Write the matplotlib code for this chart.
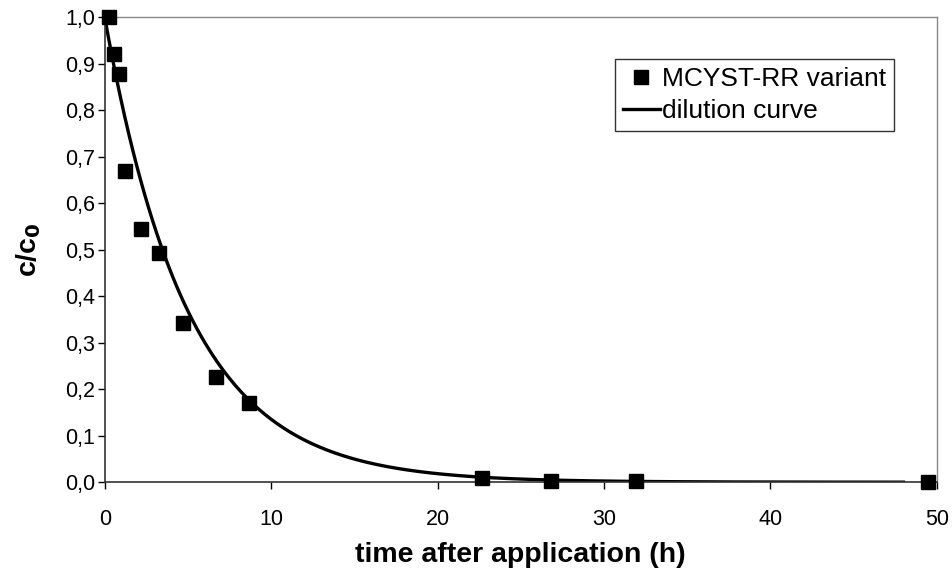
import numpy as np
import matplotlib.pyplot as plt
from matplotlib.ticker import FuncFormatter

plt.rcParams['font.family'] = ['Liberation Sans', 'DejaVu Sans']

# measured concentrations (MCYST-RR variant)
t_obs = [0.25, 0.55, 0.85, 1.2, 2.2, 3.25, 4.7, 6.7, 8.65, 22.7, 26.8, 31.9, 49.5]
c_obs = [1.0, 0.92, 0.877, 0.67, 0.545, 0.493, 0.343, 0.226, 0.17, 0.01, 0.003, 0.002, 0.0]

# dilution curve: c/c0 = exp(-k t), k
k_dil = 0.2
t_end = 48.0

x_ticks = [0, 10, 20, 30, 40, 50]
y_ticks = [0.0, 0.1, 0.2, 0.3, 0.4, 0.5, 0.6, 0.7, 0.8, 0.9, 1.0]

fig = plt.figure(figsize=(9.52, 5.72), dpi=100)
ax = fig.add_axes([0.110, 0.157, 0.874, 0.813])

t_fit = np.linspace(0, t_end, 400)
ax.plot(t_obs, c_obs, linestyle='none', marker='s', markersize=9.5, color='black',
        label='MCYST-RR variant', clip_on=False, zorder=3)
ax.plot(t_fit, np.exp(-k_dil * t_fit), color='black', linewidth=2.4,
        label='dilution curve', zorder=2)

ax.set_xlim(0, 50)
ax.set_ylim(0, 1.0)
ax.set_xticks(x_ticks)
ax.set_yticks(y_ticks)
ax.yaxis.set_major_formatter(FuncFormatter(lambda v, p: ('%.1f' % v).replace('.', ',')))
ax.tick_params(direction='out', length=5, width=1, labelsize=15.5, colors='black')
ax.tick_params(axis='x', pad=14)
ax.tick_params(axis='y', pad=2)

for side in ['left', 'bottom']:
    ax.spines[side].set_color('#333333')
    ax.spines[side].set_linewidth(1.2)
for side in ['top', 'right']:
    ax.spines[side].set_color('#888888')
    ax.spines[side].set_linewidth(1.0)

ax.set_xlabel('time after application (h)', fontsize=20.5, fontweight='bold', labelpad=9)
ax.set_ylabel(r'c/c$_\mathbf{0}$', fontsize=20.5, fontweight='bold', labelpad=16)

leg = ax.legend(loc='upper right', bbox_to_anchor=(0.949, 0.909), fontsize=19,
                frameon=True, fancybox=False, shadow=False, borderpad=0.3,
                handlelength=1.4, handletextpad=0.1, labelspacing=0.3, borderaxespad=0)
leg.get_frame().set_edgecolor('black')
leg.get_frame().set_linewidth(1.0)

fig.savefig('out.png', dpi=100)
